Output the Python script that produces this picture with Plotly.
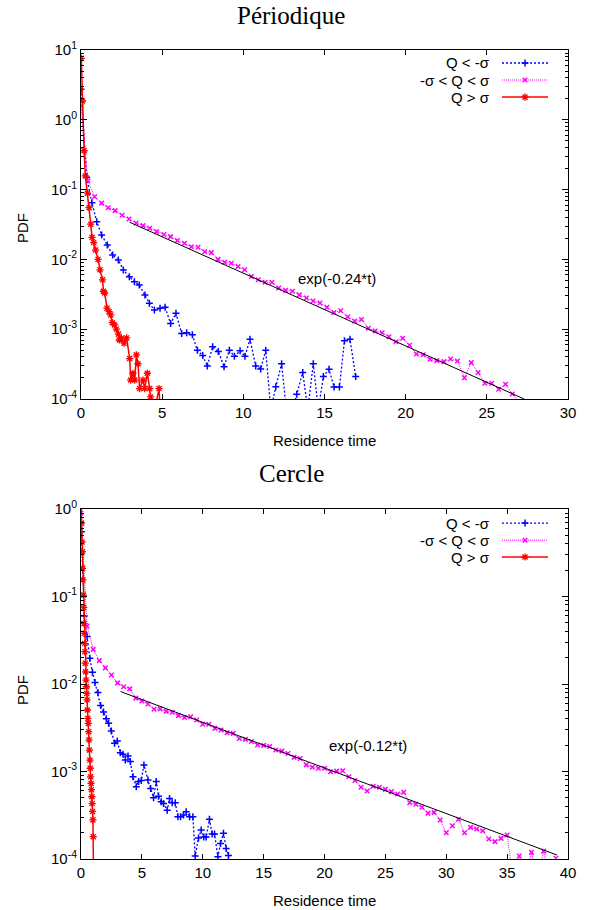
import math
import plotly.graph_objects as go

# ---------------- data: "Périodique" ----------------
p_neg_t = [0.0, 0.35, 0.67, 0.97, 1.27, 1.62, 1.95, 2.30, 2.61, 2.98, 3.29, 3.59, 3.94, 4.21,
           4.52, 4.87, 5.18, 5.52, 5.85, 6.20, 6.51, 6.86, 7.17, 7.50, 7.78, 8.11, 8.46, 8.81,
           9.14, 9.45, 9.80, 10.10, 10.41, 10.76, 11.07, 11.38, 11.69, 12.00, 12.36, 12.68,
           12.98, 13.29, 13.66, 13.97, 14.31, 14.62, 14.93, 15.28, 15.59, 15.92, 16.23, 16.57, 16.92]
p_neg_v = [2.73, 0.15, 0.065, 0.0347, 0.0224, 0.0161, 0.01156, 0.0098, 0.00705, 0.00565, 0.0048,
           0.0043, 0.0031, 0.00235, 0.00188, 0.0020, 0.00206, 0.00121, 0.00169, 0.00087, 0.00089,
           0.00083, 0.0005, 0.00042, 0.000297, 0.00056, 0.00048, 0.00029, 0.0005, 0.00041, 0.00049,
           0.00041, 0.00072, 0.000297, 0.00027, 0.0005, 0.00007, 0.00015, 0.00032, 0.00006,
           0.00006, 0.000117, 0.00024, 0.00007, 0.00032, 0.00007, 0.00021, 0.000266, 0.000148,
           0.000148, 0.000686, 0.00072, 0.00021]

p_mid_t = [0.0, 0.43, 0.84, 1.27, 1.68, 2.10, 2.53, 2.96, 3.40, 3.82, 4.23, 4.66, 5.10, 5.52,
           5.94, 6.38, 6.80, 7.21, 7.62, 8.03, 8.44, 8.85, 9.26, 9.67, 10.08, 10.50, 10.92, 11.34,
           11.76, 12.18, 12.60, 13.02, 13.45, 13.88, 14.30, 14.72, 15.15, 15.58, 16.00, 16.43,
           16.86, 17.28, 17.70, 18.12, 18.55, 18.97, 19.40, 19.82, 20.24, 20.66, 21.08, 21.50,
           21.92, 22.35, 22.77, 23.19, 23.62, 24.04, 24.46, 24.88, 25.30, 25.73, 26.15, 26.57, 27.00]
p_mid_v = [1.58, 0.134, 0.079, 0.064, 0.055, 0.050, 0.043, 0.0378, 0.0333, 0.0305, 0.0279, 0.025,
           0.0228, 0.0212, 0.0186, 0.0170, 0.0152, 0.0149, 0.0129, 0.0125, 0.0100, 0.0091, 0.0088,
           0.0079, 0.0071, 0.0057, 0.0051, 0.0047, 0.0047, 0.0039, 0.0036, 0.0035, 0.0031, 0.0028,
           0.00254, 0.00238, 0.00206, 0.00174, 0.00184, 0.00151, 0.00131, 0.00138, 0.00103, 0.00094,
           0.00089, 0.00078, 0.00066, 0.00074, 0.00059, 0.00044, 0.00043, 0.00037, 0.000355,
           0.000343, 0.000374, 0.00035, 0.000202, 0.000332, 0.000239, 0.000168, 0.000168, 0.000138,
           0.000163, 0.000118, 0.00009]

p_pos_t = [0.02, 0.09, 0.19, 0.27, 0.40, 0.50, 0.60, 0.68, 0.78, 0.90, 1.05, 1.17, 1.33, 1.38,
           1.46, 1.60, 1.73, 1.83, 1.93, 2.07, 2.18, 2.30, 2.36, 2.49, 2.65, 2.81, 3.00, 3.06,
           3.20, 3.31, 3.41, 3.51, 3.61, 3.82, 3.92, 4.09, 4.23, 4.29, 4.40, 4.81, 4.90]
p_pos_v = [7.6, 1.86, 0.36, 0.157, 0.089, 0.055, 0.032, 0.0207, 0.0174, 0.0136, 0.0100, 0.0071,
           0.0051, 0.0035, 0.0033, 0.0020, 0.00178, 0.0016, 0.00124, 0.00115, 0.0010, 0.00085,
           0.0007, 0.00074, 0.00063, 0.00075, 0.00038, 0.000187, 0.000234, 0.000187, 0.00043,
           0.00032, 0.000141, 0.000187, 0.000141, 0.000234, 0.000141, 0.000107, 0.00005,
           0.000141, 0.00005]

p_fit_rate = 0.24
p_fit_amp = 0.07
p_fit_t = [3.0, 27.3]

# ---------------- data: "Cercle" ----------------
c_neg_t = [0.03, 0.27, 0.50, 0.72, 0.94, 1.15, 1.39, 1.61, 1.85, 2.08, 2.27, 2.49, 2.76, 2.98,
           3.23, 3.45, 3.64, 3.86, 4.05, 4.27, 4.54, 4.73, 4.95, 5.17, 5.50, 5.72, 5.96, 6.18,
           6.37, 6.59, 6.78, 7.08, 7.27, 7.49, 7.74, 7.96, 8.18, 8.42, 8.64, 8.92, 9.19, 9.38,
           9.65, 9.87, 10.09, 10.28, 10.55, 10.77, 10.97, 11.24, 11.46, 11.70, 11.92, 12.11, 12.3]
c_neg_v = [0.55, 0.06, 0.035, 0.0197, 0.0136, 0.0104, 0.0080, 0.0057, 0.0048, 0.0040, 0.00355,
           0.0029, 0.0021, 0.00223, 0.00164, 0.00158, 0.00135, 0.0015, 0.0013, 0.00087, 0.00067,
           0.00077, 0.00079, 0.00119, 0.0008, 0.00064, 0.0005, 0.00077, 0.00052, 0.00045, 0.00043,
           0.00036, 0.00049, 0.00044, 0.00044, 0.000305, 0.000305, 0.000318, 0.000347, 0.000305,
           0.000305, 0.000108, 0.000174, 0.000214, 0.000178, 0.000178, 0.000284, 0.000193,
           0.000193, 0.000106, 0.00015, 0.000197, 0.000132, 0.00011, 0.00006]

c_mid_t = [0.0, 0.5, 1.0, 1.5, 2.0, 2.5, 3.0, 3.5, 4.0, 4.5, 5.0, 5.5, 6.0, 6.5, 7.0, 7.5, 8.0,
           8.5, 9.0, 9.5, 10.0, 10.5, 11.0, 11.5, 12.0, 12.5, 13.0, 13.5, 14.0, 14.5, 15.0, 15.5,
           16.0, 16.5, 17.0, 17.5, 18.0, 18.5, 19.0, 19.5, 20.0, 20.5, 21.0, 21.5, 22.0, 22.5,
           23.0, 23.5, 24.0, 24.5, 25.0, 25.5, 26.0, 26.5, 27.0, 27.5, 28.0, 28.5, 29.0, 29.5,
           30.0, 30.5, 31.0, 31.5, 32.0, 32.5, 33.0, 33.5, 34.0, 34.5, 35.0, 35.5, 36.0, 36.5,
           37.0, 37.5, 38.0, 38.5, 39.0]
c_mid_v = [0.9, 0.046, 0.0249, 0.0185, 0.0153, 0.0127, 0.0103, 0.0093, 0.0088, 0.0069, 0.0064,
           0.0059, 0.00514, 0.0052, 0.00487, 0.00476, 0.00435, 0.00414, 0.00423, 0.00388, 0.00346,
           0.00346, 0.00311, 0.00298, 0.00278, 0.00273, 0.00238, 0.00233, 0.0022, 0.00201, 0.00199,
           0.00193, 0.00176, 0.00171, 0.00161, 0.00145, 0.00141, 0.00119, 0.00112, 0.00109, 0.00109,
           0.000995, 0.00101, 0.00102, 0.00087, 0.00079, 0.00066, 0.0006, 0.00068, 0.00066,
           0.000625, 0.000589, 0.000553, 0.000578, 0.00044, 0.000422, 0.00039, 0.000333, 0.000341,
           0.000279, 0.0002, 0.00024, 0.000284, 0.0002, 0.00023, 0.00022, 0.00021, 0.000169,
           0.000158, 0.000172, 0.000188, 0.00006, 0.000108, 0.00006, 0.000119, 0.00006, 0.000123,
           0.00006, 0.000102]

c_pos_t = [0.0, 0.05, 0.08, 0.11, 0.13, 0.16, 0.19, 0.22, 0.25, 0.27, 0.30, 0.32, 0.35, 0.38,
           0.41, 0.44, 0.47, 0.50, 0.53, 0.56, 0.60, 0.63, 0.66, 0.69, 0.73, 0.76, 0.79, 0.83,
           0.86, 0.89, 0.92, 0.95, 0.98, 1.01, 1.04]
c_pos_v = [1.2, 0.69, 0.42, 0.325, 0.21, 0.155, 0.104, 0.075, 0.049, 0.038, 0.029, 0.0234,
           0.0173, 0.0138, 0.0111, 0.0093, 0.0078, 0.0066, 0.00505, 0.00405, 0.00355, 0.00285,
           0.0023, 0.00176, 0.00135, 0.00109, 0.00087, 0.00073, 0.00062, 0.000515, 0.00043,
           0.00035, 0.00028, 0.00018, 0.00005]

c_fit_rate = 0.12
c_fit_amp = 0.0121
c_fit_t = [3.25, 39.1]

legend_labels = ["Q < -σ", "-σ < Q < σ", "Q > σ"]
titles = ["Périodique", "Cercle"]
fit_labels = ["exp(-0.24*t)", "exp(-0.12*t)"]
top_exponents = [-4, -3, -2, -1, 0, 1]
bot_exponents = [-4, -3, -2, -1, 0]

# ---------------- styles ----------------
BLUE = "#0000ff"
MAG = "#ff00ff"
RED = "#ff0000"
SANS = "Liberation Sans, Arial, sans-serif"
SERIF = "Liberation Serif, Times New Roman, serif"

styles = [
    dict(color=BLUE, dash="2px,2px", width=1.3, symbol="cross-thin", msize=5, mlw=1.5),
    dict(color=MAG, dash="1px,1px", width=1.0, symbol="x-thin", msize=4.5, mlw=1.5),
    dict(color=RED, dash="solid", width=1.5, symbol="asterisk", msize=6, mlw=1.3),
]

fig = go.Figure()


def add_series(t, v, st, xa, ya):
    fig.add_trace(go.Scatter(
        x=t, y=v, mode="lines+markers", xaxis=xa, yaxis=ya, showlegend=False,
        line=dict(color=st["color"], width=st["width"], dash=st["dash"]),
        marker=dict(symbol=st["symbol"], size=st["msize"],
                    line=dict(color=st["color"], width=st["mlw"]), color=st["color"]),
        hoverinfo="skip"))


def add_fit(trange, amp, rate, xa, ya):
    ys = [amp * math.exp(-rate * tt) for tt in trange]
    fig.add_trace(go.Scatter(x=trange, y=ys, mode="lines", xaxis=xa, yaxis=ya,
                             showlegend=False, line=dict(color="black", width=1),
                             hoverinfo="skip"))


add_series(p_neg_t, p_neg_v, styles[0], "x", "y")
add_series(p_mid_t, p_mid_v, styles[1], "x", "y")
add_series(p_pos_t, p_pos_v, styles[2], "x", "y")
add_fit(p_fit_t, p_fit_amp, p_fit_rate, "x", "y")
add_series(c_neg_t, c_neg_v, styles[0], "x2", "y2")
add_series(c_mid_t, c_mid_v, styles[1], "x2", "y2")
add_series(c_pos_t, c_pos_v, styles[2], "x2", "y2")
add_fit(c_fit_t, c_fit_amp, c_fit_rate, "x2", "y2")

# gnuplot-style legend keys (positions are fractions of each plot frame)
key_x0, key_x1 = 0.8645, 0.959
key_rows_top = [0.9628, 0.914, 0.865]
key_rows_bot = [0.960, 0.911, 0.863]
for rows, xa, ya in [(key_rows_top, "x3", "y3"), (key_rows_bot, "x4", "y4")]:
    for st, ry in zip(styles, rows):
        fig.add_trace(go.Scatter(
            x=[key_x0, key_x1], y=[ry, ry],
            mode="lines", xaxis=xa, yaxis=ya, showlegend=False, hoverinfo="skip",
            line=dict(color=st["color"], width=st["width"], dash=st["dash"])))
        fig.add_trace(go.Scatter(
            x=[(key_x0 + key_x1) / 2], y=[ry], mode="markers", xaxis=xa, yaxis=ya,
            showlegend=False, hoverinfo="skip",
            marker=dict(symbol=st["symbol"], size=st["msize"], color=st["color"],
                        line=dict(color=st["color"], width=st["mlw"]))))

tickfont = dict(family=SANS, size=15, color="black")
common_x = dict(showline=True, linecolor="black", linewidth=1, mirror="ticks",
                ticks="inside", ticklen=5, tickcolor="black", showgrid=False,
                zeroline=False, tickfont=tickfont, dtick=5, tick0=0)


def ydef(exps, rng, dom, anchor):
    return dict(type="log", range=rng, domain=dom, anchor=anchor,
                showline=True, linecolor="black", linewidth=1, mirror="ticks",
                ticks="inside", ticklen=6, tickcolor="black", showgrid=False,
                zeroline=False, tickfont=tickfont,
                tickvals=[10.0 ** e for e in exps],
                ticktext=["10<sup>%d</sup>" % e for e in exps],
                minor=dict(ticks="inside", ticklen=3, dtick="D1", tickcolor="black",
                           showgrid=False))


top_dom = [0.5686, 1.0]
bot_dom = [0.0, 0.4326]

fig.update_layout(
    width=608, height=910, autosize=False,
    margin=dict(l=81, r=40, t=50, b=51),
    paper_bgcolor="white", plot_bgcolor="white",
    xaxis=dict(common_x, range=[0, 30], domain=[0, 1], anchor="y"),
    yaxis=ydef(top_exponents, [-4, 1], top_dom, "x"),
    xaxis2=dict(common_x, range=[0, 40], domain=[0, 1], anchor="y2"),
    yaxis2=ydef(bot_exponents, [-4, 0], bot_dom, "x2"),
    xaxis3=dict(range=[0, 1], overlaying="x", anchor="y3", visible=False),
    yaxis3=dict(range=[0, 1], overlaying="y", anchor="x3", visible=False),
    xaxis4=dict(range=[0, 1], overlaying="x2", anchor="y4", visible=False),
    yaxis4=dict(range=[0, 1], overlaying="y2", anchor="x4", visible=False),
    showlegend=False,
)


def py2paper(py):
    return (859 - py) / 809


title_x = (291 - 81) / 487
ann = []
ann.append(dict(text=titles[0], xref="paper", yref="paper", x=title_x, y=py2paper(15),
                yanchor="middle", showarrow=False,
                font=dict(family=SERIF, size=25, color="black")))
ann.append(dict(text=titles[1], xref="paper", yref="paper", x=title_x, y=py2paper(474),
                yanchor="middle", showarrow=False,
                font=dict(family=SERIF, size=25, color="black")))
for py in [440, 900]:
    ann.append(dict(text="Residence time", xref="paper", yref="paper", x=0.5, y=py2paper(py),
                    yanchor="middle", showarrow=False,
                    font=dict(family=SANS, size=15, color="black")))
for py in [228, 690]:
    ann.append(dict(text="PDF", xref="paper", yref="paper", x=(22 - 81) / 487, y=py2paper(py),
                    xanchor="center", yanchor="middle", textangle=-90, showarrow=False,
                    font=dict(family=SANS, size=15, color="black")))
ann.append(dict(text=fit_labels[0], xref="x", yref="y", x=15.8, y=-2.28, showarrow=False,
                yanchor="middle", font=dict(family=SANS, size=15, color="black")))
ann.append(dict(text=fit_labels[1], xref="x2", yref="y2", x=23.6, y=-2.705, showarrow=False,
                yanchor="middle", font=dict(family=SANS, size=15, color="black")))
for rows in [[63, 80, 97], [523, 540, 557]]:
    for lab, py in zip(legend_labels, rows):
        ann.append(dict(text=lab, xref="paper", yref="paper", x=(492 - 81) / 487,
                        y=py2paper(py), xanchor="right", yanchor="middle", showarrow=False,
                        font=dict(family=SANS, size=15, color="black")))
fig.update_layout(annotations=ann)

fig.write_html("out.html", config={"displayModeBar": False},
               post_script="document.body.style.margin='0px';")
